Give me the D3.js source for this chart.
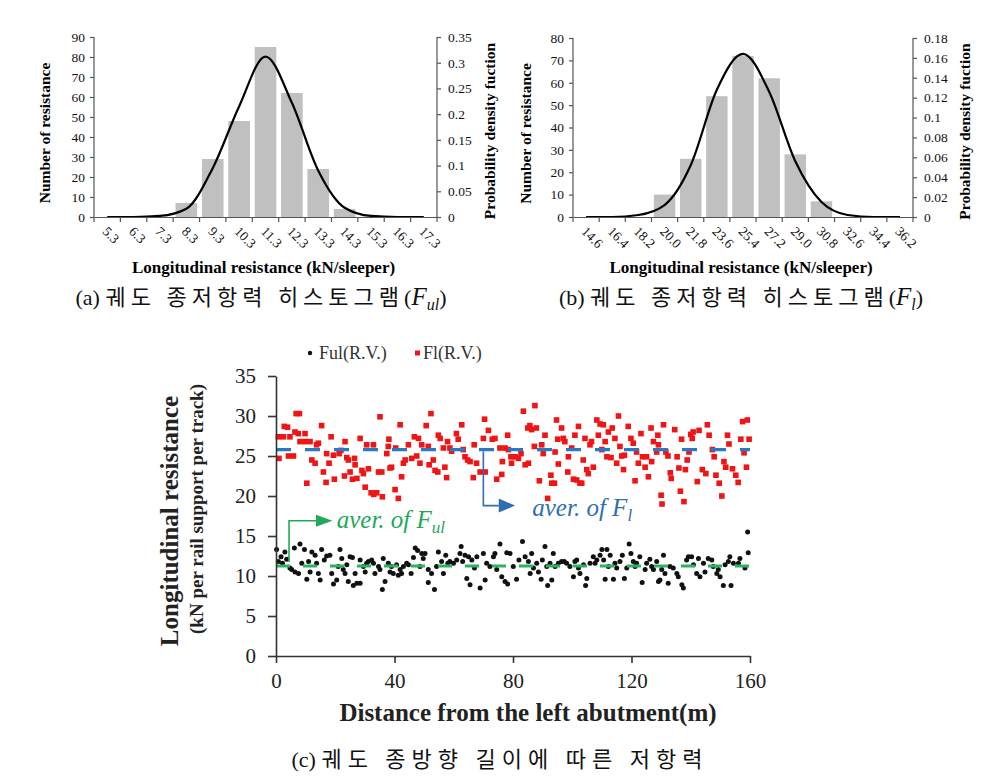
<!DOCTYPE html>
<html>
<head>
<meta charset="utf-8">
<script src="https://cdn.jsdelivr.net/npm/d3@7"></script>
<style>
  body { margin: 0; background: #fff; }
  svg { display: block; }
</style>
</head>
<body>
<div id="chart"></div>
<script>
// Histogram (a): F_ul
var catsA = ['5.3', '6.3', '7.3', '8.3', '9.3', '10.3', '11.3', '12.3', '13.3', '14.3', '15.3', '16.3', '17.3']
var countsA = [0, 0, 0, 7, 29, 48, 85, 62, 24, 4, 0, 0, 0]
var pdfA = [0, 0, 0.002, 0.016, 0.095, 0.215, 0.312, 0.222, 0.09, 0.018, 0.002, 0, 0]
var leftTicksA = [0, 10, 20, 30, 40, 50, 60, 70, 80, 90]
var rightTicksA = [0, 0.05, 0.1, 0.15, 0.2, 0.25, 0.3, 0.35]

// Histogram (b): F_l
var catsB = ['14.6', '16.4', '18.2', '20.0', '21.8', '23.6', '25.4', '27.2', '29.0', '30.8', '32.6', '34.4', '36.2']
var countsB = [0, 0, 0, 10, 26, 54, 72, 62, 28, 7, 0, 0, 0]
var pdfB = [0, 0, 0.002, 0.012, 0.052, 0.128, 0.164, 0.126, 0.056, 0.015, 0.002, 0, 0]
var leftTicksB = [0, 10, 20, 30, 40, 50, 60, 70, 80]
var rightTicksB = [0, 0.02, 0.04, 0.06, 0.08, 0.1, 0.12, 0.14, 0.16, 0.18]

// Scatter (c): [distance (m), resistance]
var flPoints = [
  [0.8, 27.4], [1, 24.7], [2.5, 27.4], [2.8, 28.7], [3.9, 28.6], [4.7, 27.4], [4.2, 25.0], [5.9, 25.0],
  [6.8, 30.3], [7.9, 30.3], [6.4, 28.0], [7.5, 27.8], [8.1, 26.8], [9.8, 27.8], [9.8, 26.8], [11.5, 26.8],
  [10.4, 21.6], [12.1, 24.5], [13.2, 24.1], [13.7, 26.4], [14.3, 26.6], [15.4, 28.8], [16.0, 23.0], [16.9, 21.7],
  [17.1, 25.3], [17.9, 24.1], [18.6, 27.4], [19.4, 25.1], [19.7, 22.1], [21.3, 25.3], [21.9, 25.7], [23.3, 26.8],
  [23.1, 22.5], [23.9, 24.8], [24.4, 24.5], [25.0, 23.0], [25.8, 22.1], [26.7, 23.9], [26.5, 24.7], [27.3, 22.2],
  [28.4, 27.2], [29.0, 23.2], [29.5, 22.8], [30.1, 21.1], [30.6, 26.4], [31.2, 23.4], [32.1, 20.4], [32.9, 26.4],
  [33.0, 20.2], [34.0, 20.4], [34.6, 23.0], [35.1, 29.9], [35.7, 23.0], [35.9, 19.9], [37.4, 25.3], [37.9, 26.2],
  [38.1, 27.1], [38.5, 23.5], [39.0, 23.6], [40.2, 20.8], [40.4, 26.0], [41.3, 19.7], [41.9, 28.9], [42.4, 22.4],
  [43.0, 24.1], [43.6, 24.5], [44.7, 26.4], [45.8, 24.7], [46.7, 27.4], [47.5, 25.0], [48.1, 27.2], [48.6, 24.1],
  [49.2, 26.4], [50.7, 28.8], [51.4, 26.2], [51.7, 23.9], [52.3, 30.3], [53.1, 24.5], [53.7, 23.2], [54.6, 23.0],
  [54.8, 27.6], [55.4, 27.2], [56.5, 26.0], [57.0, 23.6], [57.6, 22.3], [57.9, 26.8], [58.7, 26.0], [59.3, 25.6],
  [60.9, 27.8], [61.5, 27.1], [62.7, 28.9], [63.2, 25.8], [63.8, 24.9], [64.7, 24.5], [65.5, 24.3], [66.6, 22.3],
  [66.9, 26.4], [67.7, 24.1], [68.9, 23.0], [70.0, 27.2], [70.4, 29.6], [70.6, 23.0], [71.7, 28.2], [73.0, 27.1],
  [73.9, 27.2], [74.5, 22.1], [75.6, 26.0], [76.2, 22.7], [76.4, 24.3], [77.3, 26.0],
  [78.2, 27.6], [78.4, 25.8], [79.3, 24.9], [79.5, 24.1], [80.7, 24.9], [81.8, 24.7], [82.7, 25.3], [83.5, 30.6],
  [84.1, 23.9], [85.0, 28.5], [85.2, 24.1], [85.7, 28.8], [86.3, 28.3], [87.4, 31.3], [87.9, 28.5], [87.2, 26.2],
  [88.9, 21.9], [89.7, 26.4], [90.2, 25.3], [90.8, 27.6], [91.7, 19.7], [92.8, 22.6], [93.1, 21.6], [94.0, 21.6],
  [94.2, 25.5], [94.7, 29.5], [95.1, 27.1], [95.3, 24.0], [96.4, 28.5], [97.0, 27.2], [97.5, 26.8], [98.5, 23.0],
  [98.7, 24.9], [99.8, 26.0], [100.4, 22.1], [100.9, 27.6], [101.5, 22.0], [102.1, 28.7], [102.6, 21.6], [103.2, 21.6],
  [103.7, 24.5], [104.3, 27.2], [104.9, 23.3], [105.4, 22.8], [106.0, 26.4], [106.5, 26.8], [107.1, 23.6], [108.3, 29.5],
  [108.8, 27.6], [109.4, 29.0], [110.0, 25.8], [110.5, 28.9], [111.1, 26.8], [111.7, 24.9], [112.2, 28.0], [113.1, 24.8],
  [113.5, 28.5], [114.4, 27.2], [115.0, 24.1], [115.6, 30.0], [116.1, 26.2], [116.7, 25.0], [117.3, 23.3], [117.6, 25.1],
  [118.9, 28.7], [119.8, 27.2], [120.6, 26.6], [121.2, 21.9], [121.7, 25.5], [122.3, 24.1], [123.2, 27.8], [123.7, 24.9],
  [124.6, 23.6], [125.1, 24.9], [125.7, 22.4], [126.6, 28.5], [126.8, 24.3], [127.4, 26.8], [128.5, 25.5], [128.9, 27.6],
  [129.1, 26.4], [130.0, 20.1], [130.3, 19.0], [130.8, 28.9], [131.6, 25.5], [132.3, 25.0], [133.1, 22.9], [133.4, 22.2],
  [134.6, 28.3], [135.4, 24.9], [136.0, 23.5], [136.5, 20.6], [136.9, 27.1], [137.7, 19.3], [138.2, 23.3], [138.8, 24.5],
  [139.4, 25.5], [140.0, 27.7], [140.5, 27.2], [140.8, 28.0], [142.2, 21.8], [142.8, 28.2], [143.9, 23.3], [145.1, 22.8],
  [145.6, 28.9], [146.2, 27.6], [147.3, 25.8], [147.9, 24.9], [148.5, 22.6], [149.6, 21.6], [150.5, 20.0], [151.2, 24.3],
  [151.8, 23.6], [152.4, 27.6], [152.9, 26.5], [154.1, 23.4], [155.2, 22.6], [156.0, 21.7], [156.9, 27.1], [157.5, 29.3],
  [158.0, 25.4], [158.8, 23.6], [159.1, 29.5], [159.7, 27.1]
]
var fulPoints = [
  [0.2, 13.3], [0.8, 11.8], [1.7, 12.4], [2.2, 11.6], [3.0, 13.0], [3.6, 12.1], [4.7, 11.0], [5.3, 10.8],
  [6.2, 13.5], [6.4, 10.5], [7.6, 10.3], [8.1, 14.0], [8.7, 11.6], [9.6, 13.3], [10.4, 9.6], [11.0, 11.8],
  [11.5, 10.5], [12.1, 13.0], [13.2, 12.6], [13.7, 11.6], [14.3, 10.3], [14.9, 9.5], [15.4, 13.3], [16.3, 12.0],
  [17.1, 12.5], [18.2, 12.6], [18.8, 10.3], [19.4, 9.0], [20.5, 9.5], [21.0, 11.2], [21.6, 13.3], [22.2, 12.2],
  [22.7, 10.8], [23.3, 10.3], [23.9, 11.4], [24.4, 9.3], [25.0, 12.4], [25.8, 12.3], [26.1, 8.8], [26.7, 10.3],
  [27.3, 9.1], [28.4, 9.1], [28.4, 12.0], [29.5, 11.2], [30.1, 10.5], [30.6, 11.6], [31.2, 11.8], [32.3, 12.0],
  [32.9, 11.6], [33.4, 10.3], [34.6, 11.2], [35.1, 10.8], [35.9, 8.3], [36.2, 12.2], [36.8, 9.3], [37.9, 11.6],
  [38.5, 10.5], [39.0, 11.2], [39.6, 10.3], [40.7, 11.4], [41.3, 10.1], [41.9, 10.8], [42.4, 10.3], [43.0, 11.2],
  [44.1, 11.6], [44.7, 11.4], [45.6, 10.3], [46.4, 12.3], [47.0, 13.5], [47.8, 13.2], [48.6, 11.2], [49.2, 12.8],
  [49.7, 12.2], [50.3, 12.8], [51.4, 10.8], [51.4, 9.2], [52.5, 10.3], [53.5, 8.3], [54.2, 11.2], [54.8, 13.0],
  [55.9, 11.8], [56.5, 10.3], [57.3, 12.6], [58.0, 11.6], [58.7, 11.8], [59.9, 11.6], [61.0, 12.0], [62.1, 12.8],
  [62.5, 13.7], [63.0, 11.8], [63.8, 12.6], [64.4, 9.7], [65.0, 12.4], [65.5, 8.9], [66.1, 12.0], [67.0, 11.0],
  [67.8, 12.4], [68.9, 8.5], [70.0, 12.8], [70.6, 9.5], [71.1, 11.6], [72.2, 11.2], [73.4, 12.4], [73.9, 12.8],
  [74.5, 10.8], [75.6, 14.0], [76.2, 9.9], [77.3, 9.3], [77.9, 12.9], [78.2, 9.0], [79.0, 12.8], [80.1, 11.2],
  [81.2, 9.6], [82.0, 12.0], [83.2, 14.3], [84.1, 12.4], [85.2, 11.8], [85.8, 10.3], [86.3, 12.8], [86.9, 11.0],
  [88.0, 11.6], [88.6, 10.5], [89.5, 9.6], [89.9, 12.0], [90.8, 13.7], [91.4, 11.2], [91.7, 8.8], [92.5, 11.6],
  [93.1, 9.5], [93.6, 12.8], [94.2, 11.2], [95.3, 11.6], [96.4, 11.8], [97.3, 11.8], [98.1, 11.6], [99.2, 11.2],
  [100.4, 9.9], [100.9, 11.8], [101.5, 12.0], [102.1, 11.0], [102.6, 10.3], [103.8, 11.4], [104.5, 8.8], [104.9, 9.7],
  [106.0, 11.6], [107.1, 12.4], [107.7, 11.6], [108.3, 12.0], [109.4, 12.6], [110.0, 13.3], [110.6, 12.0], [111.1, 9.6],
  [111.7, 13.3], [112.2, 11.2], [112.8, 12.6], [113.9, 9.6], [114.4, 11.6], [115.0, 11.0], [116.1, 11.8], [116.9, 12.6],
  [117.6, 9.7], [118.4, 11.0], [119.2, 14.0], [119.8, 12.8], [120.6, 11.8], [121.2, 11.2], [121.7, 11.6], [122.8, 12.4],
  [123.6, 9.2], [124.6, 10.8], [125.1, 11.6], [126.2, 12.1], [126.8, 11.2], [127.4, 10.8], [128.5, 11.8], [129.1, 9.3],
  [129.6, 9.5], [130.2, 10.8], [130.8, 12.6], [131.3, 10.3], [132.4, 9.1], [133.0, 11.2], [134.1, 11.0], [135.3, 10.3],
  [135.8, 9.9], [137.0, 8.9], [137.5, 8.5], [138.6, 12.0], [139.2, 12.4], [140.3, 12.4], [140.9, 11.4], [142.0, 10.3],
  [142.6, 12.2], [143.1, 9.9], [144.3, 11.6], [144.8, 10.5], [145.9, 12.2], [147.1, 12.0], [147.6, 11.2], [148.8, 10.3],
  [149.3, 10.8], [149.9, 9.9], [151.0, 8.8], [151.6, 11.4], [152.7, 11.8], [153.2, 12.4], [153.6, 8.8], [154.4, 11.6],
  [156.1, 11.6], [156.6, 12.2], [158.3, 11.0], [159.2, 15.5], [159.4, 12.9]
]
var avgFl = 25.8
var avgFul = 11.25
var xTicksC = [0, 40, 80, 120, 160]
var yTicksC = [0, 5, 10, 15, 20, 25, 30, 35]

var serif = "'Liberation Serif', 'Times New Roman', serif"

var svg = d3.select('#chart').append('svg')
  .attr('width', 1003)
  .attr('height', 779)
  .style('background', '#fff')

function txt (sel, size, weight) {
  return sel.style('font-family', serif).style('font-size', size + 'px').style('font-weight', weight || 'normal')
}

// caption: label + spaced Korean text + optional italic F with subscript
function caption (x, y, label, korean, sub, spacing) {
  var cap = svg.append('text')
    .attr('x', x)
    .attr('y', y)
    .attr('text-anchor', 'middle')
    .style('font-family', "'Liberation Serif', 'Noto Sans CJK KR', serif").style('font-size', '22px')
    .attr('fill', '#111')
  cap.append('tspan').text(label + ' ')
  cap.append('tspan').style('letter-spacing', spacing + 'px').text(korean)
  if (sub) {
    cap.append('tspan').text('(')
    cap.append('tspan').style('font-style', 'italic').style('font-size', '25px').text('F')
    cap.append('tspan').style('font-style', 'italic').style('font-size', '16px').attr('dy', 5).text(sub)
    cap.append('tspan').attr('dy', -5).text(')')
  }
}

// Draws one histogram with a pdf curve on a second axis
function histogram (opt) {
  var g = svg.append('g')
  var x = d3.scaleBand().domain(opt.cats).range([opt.left, opt.right])
    .paddingInner(0.18).paddingOuter(0.09)
  var y = d3.scaleLinear().domain([0, opt.maxCount]).range([opt.bottom, opt.top])
  var y2 = d3.scaleLinear().domain([0, opt.maxPdf]).range([opt.bottom, opt.top])

  g.selectAll('rect.bar')
    .data(opt.counts)
    .join('rect')
    .attr('class', 'bar')
    .attr('x', (d, i) => x(opt.cats[i]))
    .attr('width', x.bandwidth())
    .attr('y', d => y(d))
    .attr('height', d => opt.bottom - y(d))
    .attr('fill', '#c0c0c0')

  var line = d3.line()
    .x((d, i) => x(opt.cats[i]) + x.bandwidth() / 2)
    .y(d => y2(d))
    .curve(d3.curveMonotoneX)
  g.append('path')
    .attr('d', line(opt.pdf))
    .attr('fill', 'none')
    .attr('stroke', '#000')
    .attr('stroke-width', 2.2)

  var la = g.append('g')
    .attr('transform', 'translate(' + opt.left + ',0)')
    .call(d3.axisLeft(y).tickValues(opt.leftTicks).tickSize(4).tickPadding(5))
  var ra = g.append('g')
    .attr('transform', 'translate(' + opt.right + ',0)')
    .call(d3.axisRight(y2).tickValues(opt.rightTicks).tickSize(4).tickPadding(7).tickFormat(d => String(+d.toFixed(2))))
  // bottom axis: labels at band centres, ticks at band edges
  var ba = g.append('g')
    .attr('transform', 'translate(0,' + opt.bottom + ')')
    .call(d3.axisBottom(x).tickSize(0).tickSizeOuter(0))
  ba.selectAll('.tick text')
    .attr('x', 0).attr('y', 0).attr('dy', '0.35em')
    .attr('transform', 'translate(-2,12) rotate(45)')
    .style('text-anchor', 'start')
  ba.selectAll('line.edge')
    .data(d3.range(opt.cats.length + 1))
    .join('line')
    .attr('class', 'edge')
    .attr('x1', i => opt.left + i * x.step())
    .attr('x2', i => opt.left + i * x.step())
    .attr('y1', 0).attr('y2', 5)

  ;[la, ra, ba].forEach(a => {
    a.selectAll('path, line').attr('stroke', '#555').attr('stroke-width', 1.2)
    txt(a.selectAll('text'), 13.5).attr('fill', '#111')
  })
  la.select('.domain').attr('d', 'M0,' + opt.bottom + 'V' + opt.top)
  ra.select('.domain').attr('d', 'M0,' + opt.bottom + 'V' + opt.top)

  txt(g.append('text'), 15.5, 'bold')
    .attr('transform', 'translate(' + opt.lTitleX + ',' + ((opt.top + opt.bottom) / 2 + 6) + ') rotate(-90)')
    .attr('text-anchor', 'middle')
    .text('Number of resistance')
  txt(g.append('text'), 15.5, 'bold')
    .attr('transform', 'translate(' + opt.rTitleX + ',' + ((opt.top + opt.bottom) / 2 + 4) + ') rotate(-90)')
    .attr('text-anchor', 'middle')
    .text('Probability density fuction')
  txt(g.append('text'), 17, 'bold')
    .attr('x', (opt.left + opt.right) / 2 - 2)
    .attr('y', 273)
    .attr('text-anchor', 'middle')
    .text('Longitudinal resistance (kN/sleeper)')

  caption(opt.capX, 305, opt.capLabel, opt.capText, opt.sub, 5)
}

histogram({
  cats: catsA, counts: countsA, pdf: pdfA, leftTicks: leftTicksA, rightTicks: rightTicksA,
  maxCount: 90, maxPdf: 0.35, left: 94, right: 437, top: 37, bottom: 217,
  lTitleX: 50, rTitleX: 495, capX: 261, capLabel: '(a)', capText: '궤도 종저항력 히스토그램', sub: 'ul'
})
histogram({
  cats: catsB, counts: countsB, pdf: pdfB, leftTicks: leftTicksB, rightTicks: rightTicksB,
  maxCount: 80, maxPdf: 0.18, left: 573, right: 913, top: 38, bottom: 217,
  lTitleX: 531, rTitleX: 970, capX: 741, capLabel: '(b)', capText: '궤도 종저항력 히스토그램', sub: 'l'
})

// Scatter (c)
var gc = svg.append('g')
var xc = d3.scaleLinear().domain([0, 160]).range([276, 750])
var yc = d3.scaleLinear().domain([0, 35]).range([656, 376])

gc.selectAll('circle.ful')
  .data(fulPoints)
  .join('circle')
  .attr('class', 'ful')
  .attr('cx', d => xc(d[0]))
  .attr('cy', d => yc(d[1]))
  .attr('r', 2.5)
  .attr('fill', '#111')

gc.selectAll('rect.fl')
  .data(flPoints)
  .join('rect')
  .attr('class', 'fl')
  .attr('x', d => xc(d[0]) - 2.8)
  .attr('y', d => yc(d[1]) - 2.8)
  .attr('width', 5.6)
  .attr('height', 5.6)
  .attr('fill', '#f01414')

gc.append('line')
  .attr('x1', xc(0)).attr('x2', xc(160))
  .attr('y1', yc(avgFl)).attr('y2', yc(avgFl))
  .attr('stroke', '#2a78c2').attr('stroke-width', 3.2)
  .attr('stroke-dasharray', '15,14')
gc.append('line')
  .attr('x1', xc(0)).attr('x2', xc(160))
  .attr('y1', yc(avgFul)).attr('y2', yc(avgFul))
  .attr('stroke', '#2cb35e').attr('stroke-width', 3)
  .attr('stroke-dasharray', '14,13')

var xa = gc.append('g')
  .attr('transform', 'translate(0,656)')
  .call(d3.axisBottom(xc).tickValues(xTicksC).tickSize(7).tickSizeOuter(0).tickPadding(10))
var ya = gc.append('g')
  .attr('transform', 'translate(276,0)')
  .call(d3.axisLeft(yc).tickValues(yTicksC).tickSize(8).tickSizeOuter(0).tickPadding(12))
;[xa, ya].forEach(a => {
  a.selectAll('path, line').attr('stroke', '#333').attr('stroke-width', 1.6)
  txt(a.selectAll('text'), 21).attr('fill', '#222')
})

// annotation arrows
var green = '#22a85a'
var blue = '#2f6fb0'
gc.append('path')
  .attr('d', 'M' + xc(4.4) + ',' + (yc(avgFul) - 4) + 'V' + yc(16.9) + 'H' + (xc(13.5)))
  .attr('fill', 'none').attr('stroke', green).attr('stroke-width', 1.6)
gc.append('path')
  .attr('d', 'M' + xc(13.5) + ',' + (yc(16.9) - 6) + 'L' + xc(19) + ',' + yc(16.9) + 'L' + xc(13.5) + ',' + (yc(16.9) + 6) + 'Z')
  .attr('fill', green)
gc.append('path')
  .attr('d', 'M' + xc(70) + ',' + (yc(avgFl) + 2) + 'V' + yc(18.8) + 'H' + xc(75.2))
  .attr('fill', 'none').attr('stroke', blue).attr('stroke-width', 1.6)
gc.append('path')
  .attr('d', 'M' + xc(75.2) + ',' + (yc(18.8) - 7) + 'L' + xc(80.7) + ',' + yc(18.8) + 'L' + xc(75.2) + ',' + (yc(18.8) + 7) + 'Z')
  .attr('fill', blue)

var t1 = txt(gc.append('text'), 25)
  .attr('x', xc(20.5)).attr('y', yc(16.9) + 7)
  .style('font-style', 'italic').attr('fill', green)
t1.append('tspan').text('aver. of F')
t1.append('tspan').style('font-size', '17px').attr('dy', 5).text('ul')
var t2 = txt(gc.append('text'), 25)
  .attr('x', xc(86.5)).attr('y', yc(18.8) + 10)
  .style('font-style', 'italic').attr('fill', blue)
t2.append('tspan').text('aver. of F')
t2.append('tspan').style('font-size', '17px').attr('dy', 5).text('l')

// legend
gc.append('circle').attr('cx', 310).attr('cy', 353).attr('r', 2.2).attr('fill', '#111')
txt(gc.append('text'), 18).attr('x', 319).attr('y', 359).attr('fill', '#333').text('Ful(R.V.)')
gc.append('rect').attr('x', 415).attr('y', 350.5).attr('width', 5).attr('height', 5).attr('fill', '#f01414')
txt(gc.append('text'), 18).attr('x', 423).attr('y', 359).attr('fill', '#333').text('Fl(R.V.)')

// axis titles
txt(gc.append('text'), 25, 'bold')
  .attr('transform', 'translate(178,521) rotate(-90)')
  .attr('text-anchor', 'middle')
  .attr('fill', '#222')
  .text('Longitudinal resistance')
txt(gc.append('text'), 19, 'bold')
  .attr('transform', 'translate(203,509) rotate(-90)')
  .attr('text-anchor', 'middle')
  .attr('fill', '#222')
  .text('(kN per rail support per track)')
txt(gc.append('text'), 25, 'bold')
  .attr('x', 528).attr('y', 721)
  .attr('text-anchor', 'middle')
  .attr('fill', '#222')
  .text('Distance from the left abutment(m)')

caption(500, 767, '(c)', '궤도 종방향 길이에 따른 저항력', null, 6)
</script>
</body>
</html>
